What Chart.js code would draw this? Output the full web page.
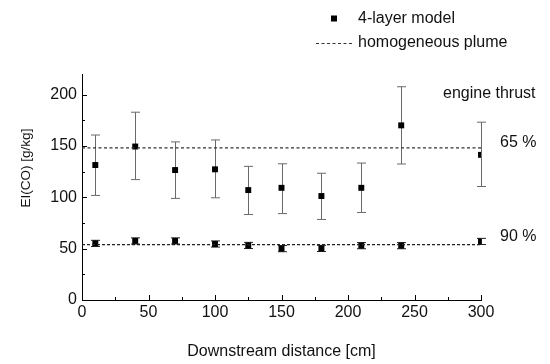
<!DOCTYPE html>
<html>
<head>
<meta charset="utf-8">
<script src="https://cdn.jsdelivr.net/npm/chart.js@4/dist/chart.umd.min.js"></script>
<style>
  html, body { margin: 0; padding: 0; background: #fff; }
  canvas { display: block; }
</style>
</head>
<body>
<canvas id="chart" width="550" height="364"></canvas>
<script>
const distance = [10, 40, 70, 100, 125, 150, 180, 210, 240, 300];

// 65 % thrust
const ei65 = [131.4, 149.4, 126.5, 127.2, 107.0, 109.2, 101.2, 109.2, 170.0, 141.3];
const ei65Hi = [160.6, 182.8, 153.9, 155.8, 130.1, 132.6, 123.4, 133.3, 207.6, 173.1];
const ei65Lo = [101.8, 117.2, 98.9, 99.5, 83.2, 84.1, 78.4, 85.2, 132.4, 110.5];

// 90 % thrust
const ei90 = [55.1, 57.5, 57.5, 54.5, 53.1, 50.0, 50.2, 52.9, 52.9, 57.0];
const ei90Hi = [58.1, 60.5, 60.5, 57.5, 56.1, 53.0, 53.2, 55.9, 55.9, 60.0];
const ei90Lo = [52.1, 54.5, 54.5, 51.5, 50.1, 47.0, 47.2, 49.9, 49.9, 54.0];

// homogeneous plume
const homX = [0, 300];
const hom65 = [148, 148];
const hom90 = [54, 54];

const xTicks = [0, 50, 100, 150, 200, 250, 300];
const yTicks = [0, 50, 100, 150, 200];

const FONT = 'Liberation Sans';
Chart.defaults.font.family = FONT;
Chart.defaults.font.size = 16;
Chart.defaults.color = '#111';

const toPoints = (xs, ys) => xs.map((x, i) => ({ x: x, y: ys[i] }));

const errorBars = [
    { lo: ei65Lo, hi: ei65Hi, color: '#6a6a6a' },
    { lo: ei90Lo, hi: ei90Hi, color: '#222' }
];

const decor = {
    id: 'decor',
    beforeDatasetsDraw(chart) {
        const { ctx, scales: { x, y } } = chart;
        ctx.save();
        ctx.lineWidth = 1;
        errorBars.forEach(bar => {
            ctx.strokeStyle = bar.color;
            distance.forEach((d, i) => {
                const px = Math.round(x.getPixelForValue(d)) + 0.5;
                const top = y.getPixelForValue(bar.hi[i]);
                const bot = y.getPixelForValue(bar.lo[i]);
                ctx.beginPath();
                ctx.moveTo(px, top);
                ctx.lineTo(px, bot);
                ctx.moveTo(px - 4.5, top);
                ctx.lineTo(px + 4.5, top);
                ctx.moveTo(px - 4.5, bot);
                ctx.lineTo(px + 4.5, bot);
                ctx.stroke();
            });
        });
        ctx.restore();
    },
    afterDraw(chart) {
        const { ctx, chartArea, scales: { x, y } } = chart;
        ctx.save();

        // inward ticks
        ctx.strokeStyle = '#000';
        ctx.lineWidth = 1;
        ctx.beginPath();
        yTicks.forEach((v, i) => {
            const py = Math.round(y.getPixelForValue(v)) + 0.5;
            ctx.moveTo(chartArea.left, py);
            ctx.lineTo(chartArea.left + 5, py);
            if (i < yTicks.length - 1) {
                const pm = Math.round(y.getPixelForValue((v + yTicks[i + 1]) / 2)) + 0.5;
                ctx.moveTo(chartArea.left, pm);
                ctx.lineTo(chartArea.left + 3, pm);
            }
        });
        xTicks.forEach((v, i) => {
            const px = Math.round(x.getPixelForValue(v)) + 0.5;
            ctx.moveTo(px, chartArea.bottom);
            ctx.lineTo(px, chartArea.bottom - 5);
            if (i < xTicks.length - 1) {
                const pm = Math.round(x.getPixelForValue((v + xTicks[i + 1]) / 2)) + 0.5;
                ctx.moveTo(pm, chartArea.bottom);
                ctx.lineTo(pm, chartArea.bottom - 3);
            }
        });
        ctx.stroke();

        // y title
        ctx.fillStyle = '#111';
        ctx.textBaseline = 'middle';
        ctx.save();
        ctx.translate(26, 168);
        ctx.rotate(-Math.PI / 2);
        ctx.textAlign = 'center';
        ctx.font = '13.5px ' + FONT;
        ctx.fillText('EI(CO) [g/kg]', 0, 0);
        ctx.restore();

        // legend
        ctx.font = '16px ' + FONT;
        ctx.textAlign = 'left';
        ctx.fillStyle = '#000';
        ctx.fillRect(331, 15.5, 6, 6);
        ctx.fillStyle = '#111';
        ctx.fillText('4-layer model', 358, 19);
        ctx.strokeStyle = '#333';
        ctx.setLineDash([3, 2.5]);
        ctx.beginPath();
        ctx.moveTo(316, 43.5);
        ctx.lineTo(352, 43.5);
        ctx.stroke();
        ctx.setLineDash([]);
        ctx.fillText('homogeneous plume', 358, 43);

        // thrust labels
        ctx.fillText('engine thrust', 443, 94);
        ctx.fillText('65 %', 500, 143);
        ctx.fillText('90 %', 500, 237);
        ctx.restore();
    }
};

new Chart(document.getElementById('chart'), {
    type: 'scatter',
    data: {
        datasets: [{
            label: 'homogeneous plume 65 %',
            type: 'line',
            data: toPoints(homX, hom65),
            borderColor: '#333',
            borderWidth: 1.2,
            borderDash: [3, 2.5],
            pointRadius: 0,
            fill: false
        },
        {
            label: 'homogeneous plume 90 %',
            type: 'line',
            data: toPoints(homX, hom90),
            borderColor: '#222',
            borderWidth: 1.3,
            borderDash: [3, 2],
            pointRadius: 0,
            fill: false
        },
        {
            label: '4-layer model 65 %',
            data: toPoints(distance, ei65),
            pointStyle: 'rect',
            pointRadius: 4.2,
            backgroundColor: '#000',
            borderColor: '#000',
            borderWidth: 0
        },
        {
            label: '4-layer model 90 %',
            data: toPoints(distance, ei90),
            pointStyle: 'rect',
            pointRadius: 4.2,
            backgroundColor: '#000',
            borderColor: '#000',
            borderWidth: 0
        }]
    },
    options: {
        responsive: false,
        animation: false,
        layout: { padding: { top: 74, right: 69, left: 0, bottom: 0 } },
        plugins: {
            legend: { display: false },
            tooltip: { enabled: false }
        },
        scales: {
            x: {
                type: 'linear',
                min: 0,
                max: 300,
                afterBuildTicks: s => { s.ticks = xTicks.map(v => ({ value: v })); },
                afterFit: s => { s.height = 64; },
                ticks: { padding: 3, font: { size: 16 }, color: '#111' },
                grid: { display: false, drawTicks: false },
                border: { display: true, color: '#000', width: 1 },
                title: {
                    display: true,
                    text: 'Downstream distance [cm]',
                    font: { size: 16 },
                    color: '#111',
                    padding: { top: 0, bottom: 3 }
                }
            },
            y: {
                type: 'linear',
                min: 0,
                max: 220,
                afterBuildTicks: s => { s.ticks = yTicks.map(v => ({ value: v })); },
                afterFit: s => { s.width = 82; },
                ticks: { padding: 5, font: { size: 16 }, color: '#111' },
                grid: { display: false, drawTicks: false },
                border: { display: true, color: '#000', width: 1 }
            }
        }
    },
    plugins: [decor]
});
</script>
</body>
</html>
